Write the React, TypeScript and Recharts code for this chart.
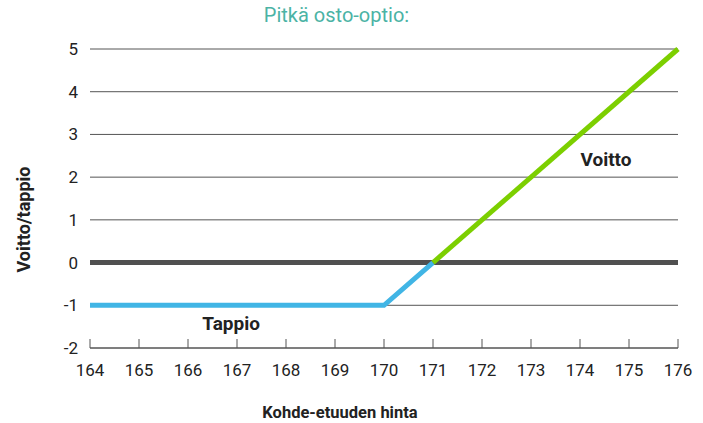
import React from 'react';
import { ComposedChart, Line, XAxis, YAxis, CartesianGrid, ReferenceDot } from 'recharts';

const xTicks = [164, 165, 166, 167, 168, 169, 170, 171, 172, 173, 174, 175, 176];
const yTicks = [-2, -1, 0, 1, 2, 3, 4, 5];
const zeroLine = [{ x: 164, y: 0 }, { x: 176, y: 0 }];
const lossLine = [{ x: 164, y: -1 }, { x: 170, y: -1 }, { x: 171, y: 0 }];
const profitLine = [{ x: 171, y: 0 }, { x: 176, y: 5 }];
const annotations = [
  { x: 166.88, y: -1.43, text: 'Tappio' },
  { x: 174.53, y: 2.43, text: 'Voitto' },
];

const FONT = 'Roboto, "Noto Sans", sans-serif';

const XTick = (props: any) => {
  const { x, y, payload } = props;
  return (
    <g>
      <line x1={x} x2={x} y1={y} y2={y - 9} stroke="#555" strokeWidth={1} />
      <text x={x} y={y + 28} textAnchor="middle" fontSize={17} fill="#222" fontFamily={FONT}>
        {payload.value}
      </text>
    </g>
  );
};

const YTick = (props: any) => {
  const { x, y, payload } = props;
  return (
    <text x={x} y={y + 6} textAnchor="end" fontSize={17} fill="#222" fontFamily={FONT}>
      {payload.value}
    </text>
  );
};

const YLabel = (props: any) => {
  const vb = props.viewBox || { x: 0, y: 0, width: 90, height: 300 };
  const cx = vb.x + 23;
  const cy = vb.y + vb.height / 2 + 21;
  return (
    <text
      x={cx}
      y={cy}
      transform={`rotate(-90 ${cx} ${cy})`}
      textAnchor="middle"
      dominantBaseline="central"
      fontSize={18}
      fontWeight="bold"
      fill="#222"
      fontFamily={FONT}
    >
      Voitto/tappio
    </text>
  );
};

const XLabel = (props: any) => {
  const vb = props.viewBox || { x: 90, y: 348, width: 588, height: 75 };
  const cx = vb.x + vb.width / 2 - 44;
  const cy = vb.y + 70;
  return (
    <text x={cx} y={cy} textAnchor="middle" fontSize={16.5} fontWeight="bold" fill="#222" fontFamily={FONT}>
      Kohde-etuuden hinta
    </text>
  );
};

export default function App() {
  return (
    <div style={{ position: 'absolute', left: 0, top: 0, width: 703, height: 423, background: '#fff' }}>
      <div
        style={{
          position: 'absolute',
          left: 0,
          width: 673,
          top: 3,
          textAlign: 'center',
          fontFamily: FONT,
          fontSize: 20,
          color: '#4bb3a5',
          lineHeight: '24px',
        }}
      >
        Pitkä osto-optio:
      </div>
      <ComposedChart width={703} height={423} margin={{ top: 49, right: 25, left: 0, bottom: 0 }}>
        <CartesianGrid horizontal vertical={false} stroke="#555" strokeWidth={1} />
        <XAxis
          type="number"
          dataKey="x"
          domain={[164, 176]}
          ticks={xTicks}
          interval={0}
          height={75}
          tickSize={0}
          tickMargin={0}
          tickLine={false}
          axisLine={{ stroke: '#555', strokeWidth: 1 }}
          tick={<XTick />}
          allowDuplicatedCategory={false}
          label={{ content: <XLabel /> }}
        />
        <YAxis
          type="number"
          dataKey="y"
          domain={[-2, 5]}
          ticks={yTicks}
          interval={0}
          width={90}
          tickSize={0}
          tickMargin={12}
          tickLine={false}
          axisLine={false}
          tick={<YTick />}
          label={{ content: <YLabel /> }}
        />
        <Line
          data={zeroLine}
          dataKey="y"
          stroke="#505050"
          strokeWidth={5}
          dot={false}
          activeDot={false}
          isAnimationActive={false}
        />
        <Line
          data={lossLine}
          dataKey="y"
          stroke="#41b5e5"
          strokeWidth={5}
          dot={false}
          activeDot={false}
          isAnimationActive={false}
        />
        <Line
          data={profitLine}
          dataKey="y"
          stroke="#7ccf00"
          strokeWidth={5}
          dot={false}
          activeDot={false}
          isAnimationActive={false}
        />
        {annotations.map((a) => (
          <ReferenceDot
            key={a.text}
            x={a.x}
            y={a.y}
            r={0}
            fill="none"
            stroke="none"
            label={{
              value: a.text,
              position: 'center',
              fontSize: 19,
              fontWeight: 'bold',
              fill: '#222',
              fontFamily: FONT,
            }}
          />
        ))}
      </ComposedChart>
    </div>
  );
}
